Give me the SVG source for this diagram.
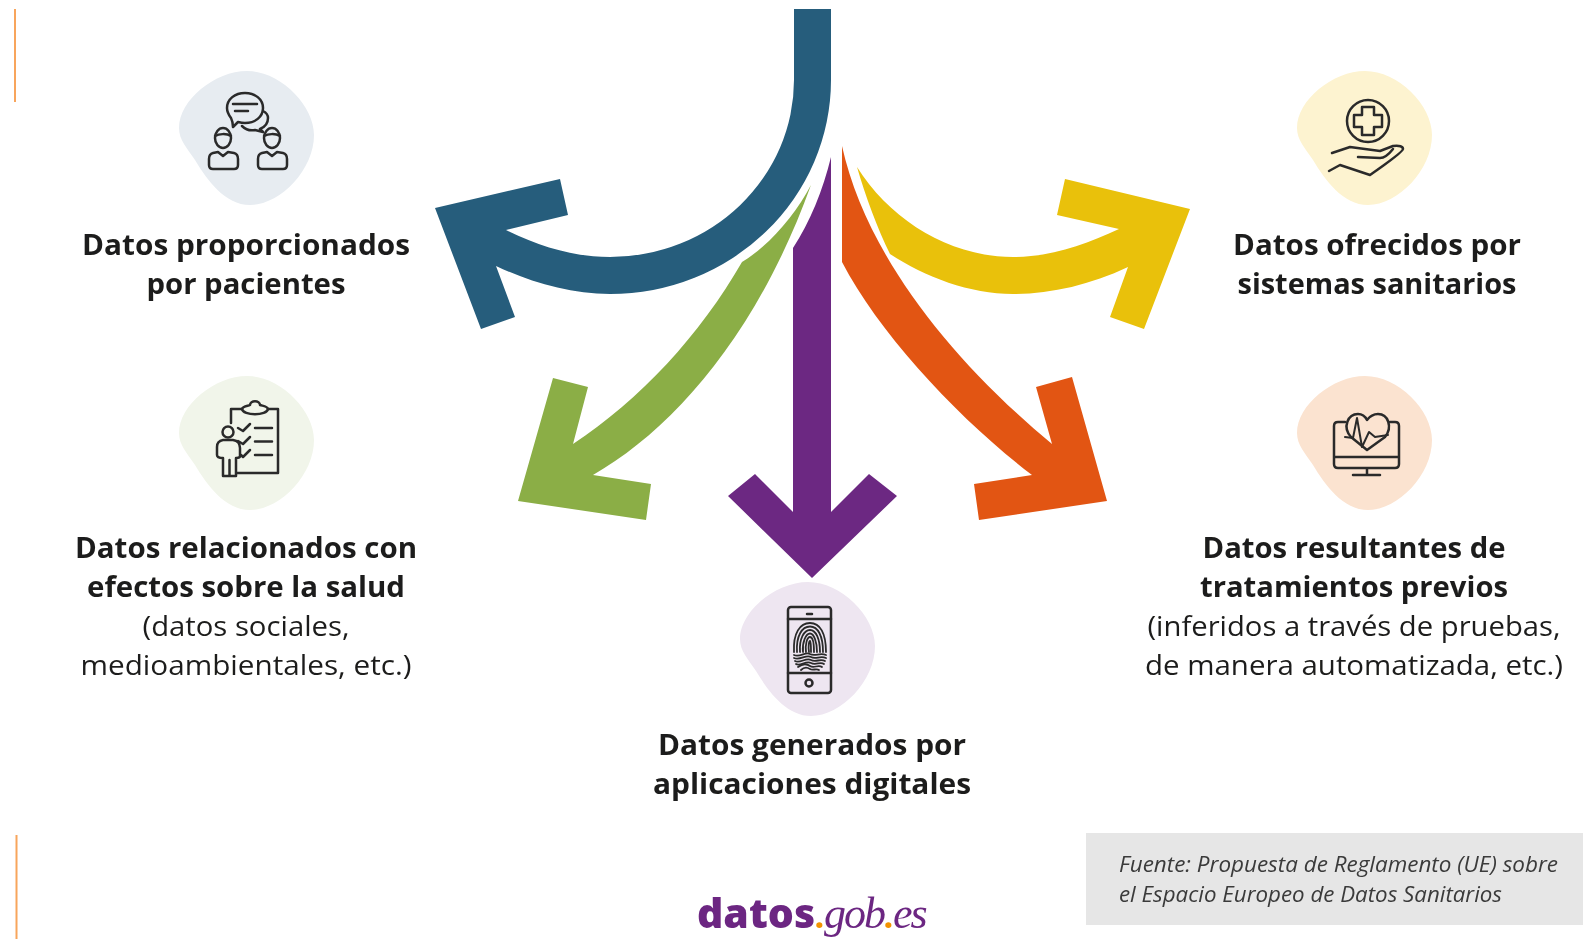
<svg xmlns="http://www.w3.org/2000/svg" width="1583" height="939" viewBox="0 0 1583 939">
<style>
.t{font-family:"Open Sans","Noto Sans",sans-serif;font-size:28px;fill:#1d1d1b;text-anchor:middle}
.b{font-weight:700}
.r{font-weight:400}
.i{fill:none;stroke:#2b2b2b;stroke-width:2.5;stroke-linejoin:round;stroke-linecap:round}
.f{fill:none;stroke:#2b2b2b;stroke-width:1.8;stroke-linecap:round}
.s{font-family:"Open Sans","Noto Sans",sans-serif;font-style:italic;font-size:22px;fill:#3a3a3a}
.n{filter:url(#soft)}
.lb{font-family:"Open Sans",sans-serif;font-weight:800;font-size:41px;fill:#6c2882}
.ls{font-family:"Liberation Serif",serif;font-style:italic;font-size:44px;letter-spacing:-2px;fill:#6c2882}
.ld{font-family:"Open Sans",sans-serif;font-weight:800;font-size:30px;fill:#f39200}
</style>
<defs>
<filter id="soft" x="-5%" y="-5%" width="110%" height="110%"><feGaussianBlur stdDeviation="0.45"/></filter>
<path id="blob" d="M68,0C101,0 135,34 135,64C135,99 101,134 71,134C46,134 28,109 16,89C8,77 0,69 0,57C0,29 36,0 68,0Z"/>
</defs>
<rect width="1583" height="939" fill="#fff"/>
<g id="marks" fill="#f8a55c">
<rect x="14" y="9" width="2" height="93"/>
<rect x="15.500" y="835" width="2" height="104"/>
</g>
<g id="connectors">
<path id="arrow-blue" fill="#265d7c" d="M794,9H831V80A221,214 0 0 1 610,294C570,294 530,282 496,266L515,317L481,329L435,208L560,179L568,215L506,230C540,247 575,257 610,257A184,177 0 0 0 794,80Z"/>
<path id="arrow-green" fill="#8bae46" d="M811,185C757,335 672,430 593,475L651,484L646,520L518,501L553,378L588,387L573,444C640,400 700,335 742,262C770,245 795,215 811,185Z"/>
<path id="arrow-purple" fill="#6c2882" d="M831,157V512L869,474L897,496L812,578L728,496L755,474L793,512V248C810,222 823,190 831,157Z"/>
<path id="arrow-orange" fill="#e25513" d="M842,146C865,250 945,355 1052,444L1036,387L1072,377L1107,501L979,520L974,484L1032,475C960,420 880,335 842,262Z"/>
<path id="arrow-yellow" fill="#e9c10b" d="M857,167C890,220 950,257 1013,257C1050,257 1085,245 1119,229L1057,215L1065,179L1190,209L1144,329L1110,317L1128,267C1090,285 1050,294 1013,294C970,294 925,277 890,254C878,230 865,195 857,167Z"/>
</g>
<g id="node-pacientes" class="n">
<use href="#blob" x="179" y="71" fill="#e7ecf1"/>
<g class="i">
<path d="M233,127C233,122 232,120 231,118C228,114 227,111 227,108C227,99 235,93 245,93C255,93 263,99 263,108C263,117 255,123 245,123C242,123 240,122.500 238,122Z"/>
<path d="M263,111C267,113 268,116 268,118C268,123 265,127 260,129L263,132L255,130C250,131 245,129 242,126"/>
<path d="M233,104H257M235,111H248"/>
<ellipse cx="223" cy="138" rx="8" ry="10"/><path d="M215,136C219,134 226,133 231,136"/>
<path d="M218,152L213,153Q209,154 209,159V165Q209,169 213,169H234Q238,169 238,165V159Q238,154 234,153L228,152L223,156Z"/>
<ellipse cx="272" cy="138" rx="8" ry="10"/><path d="M264,136C268,134 275,133 280,136"/>
<path d="M267,152L262,153Q258,154 258,159V165Q258,169 262,169H283Q287,169 287,165V159Q287,154 283,153L277,152L272,156Z"/>
</g>
<text class="t b" x="246" y="255" textLength="328" lengthAdjust="spacingAndGlyphs">Datos proporcionados</text>
<text class="t b" x="246" y="294" textLength="199" lengthAdjust="spacingAndGlyphs">por pacientes</text>
</g>
<g id="node-efectos" class="n">
<use href="#blob" x="179" y="376" fill="#f1f5ea"/>
<g class="i">
<path d="M231,423V409H242M268,409H278V473H237"/>
<path d="M242,409C243,406 248,406 250,405C250,400 260,400 260,405C263,406 267,406 268,409C267,416 243,416 242,409Z"/>
<path d="M238,428L243,431L250,424M238,441L243,444L250,437M241,455L243,457L250,450"/>
<path d="M255,428H272M255,441.500H272M255,455H272"/>
<circle cx="228" cy="432" r="5.500"/>
<path d="M223,440H233Q240,441 240,448V456Q240,458 236,458V476H223V458Q217,458 217,455V447Q217,441 223,440ZM229.500,460V476"/>
</g>
<text class="t b" x="246" y="558" textLength="342" lengthAdjust="spacingAndGlyphs">Datos relacionados con</text>
<text class="t b" x="246" y="597" textLength="318" lengthAdjust="spacingAndGlyphs">efectos sobre la salud</text>
<text class="t r" x="246" y="636" textLength="207" lengthAdjust="spacingAndGlyphs">(datos sociales,</text>
<text class="t r" x="246" y="675" textLength="331" lengthAdjust="spacingAndGlyphs">medioambientales, etc.)</text>
</g>
<g id="node-sistemas" class="n">
<use href="#blob" x="1297" y="71" fill="#fdf3d0"/>
<g class="i">
<circle cx="1368" cy="121" r="21"/>
<path d="M1362,107H1374V115H1382V127H1374V135H1362V127H1354V115H1362Z"/>
<path d="M1332,153L1350,147L1380,151L1393,146Q1403,145 1403,149Q1403,152 1370,175L1340,165L1329,171M1358,157L1380,158Q1386,158 1393,149"/>
</g>
<text class="t b" x="1377" y="255" textLength="288" lengthAdjust="spacingAndGlyphs">Datos ofrecidos por</text>
<text class="t b" x="1377" y="294" textLength="279" lengthAdjust="spacingAndGlyphs">sistemas sanitarios</text>
</g>
<g id="node-tratamientos" class="n">
<use href="#blob" x="1297" y="376" fill="#fbe3d0"/>
<g class="i">
<path d="M1345,422H1338Q1334,422 1334,426V464Q1334,468 1338,468H1395Q1399,468 1399,464V426Q1399,422 1395,422H1390M1334,457H1399M1367,468V475M1353,475H1380"/>
<path d="M1367,450L1351,437C1342,427 1348,414 1358,414C1362,414 1365,416 1367,420C1370,416 1373,414 1378,414C1388,414 1393,427 1385,437Z"/>
<path d="M1345,437L1353,438L1357,418L1362,447L1369,432L1375,437L1388,435" stroke-width="2"/>
</g>
<text class="t b" x="1354" y="558" textLength="303" lengthAdjust="spacingAndGlyphs">Datos resultantes de</text>
<text class="t b" x="1354" y="597" textLength="308" lengthAdjust="spacingAndGlyphs">tratamientos previos</text>
<text class="t r" x="1354" y="636" textLength="413" lengthAdjust="spacingAndGlyphs">(inferidos a través de pruebas,</text>
<text class="t r" x="1354" y="675" textLength="418" lengthAdjust="spacingAndGlyphs">de manera automatizada, etc.)</text>
</g>
<g id="node-aplicaciones" class="n">
<use href="#blob" x="740" y="582" fill="#eee6f1"/>
<g class="i">
<rect x="788" y="607" width="43" height="86" rx="3"/>
<path d="M788,619H831M788,673H831M807,614H812"/>
<circle cx="809" cy="683" r="3.500"/>
</g>
<g class="f">
<path d="M794,652C793,633 800,623 810,623C820,623 826,633 826,652"/>
<path d="M797,652C796,636 802,626.500 810,626.500C818,626.500 823,636 823,652"/>
<path d="M800,652C799,639 804,630 810,630C816,630 820,639 820,652"/>
<path d="M803,652C802,642 806,633.500 810,633.500C814,633.500 817,642 817,652"/>
<path d="M806,652C805,645 807,637 810,637C813,637 814,645 814,652"/>
<path d="M809,652C808,647 809,641 810,641C811,642 811,647 811,652"/>
<path d="M794,655C800,658 806,651 810,654C815,657 820,652 826,655"/>
<path d="M794,658C800,661 806,654 811,657C816,660 820,655 826,658"/>
<path d="M795,661C800,664 806,657 811,660C816,663 820,658 825,661"/>
<path d="M796,664C800,667 806,660 811,663C816,666 820,661 824,664"/>
<path d="M798,667C802,664 806,663 810,666C814,669 818,664 822,667"/>
<path d="M801,670C804,667 807,667 810,669C813,671 816,668 819,670"/>
</g>
<text class="t b" x="812" y="755" textLength="308" lengthAdjust="spacingAndGlyphs">Datos generados por</text>
<text class="t b" x="812" y="794" textLength="318" lengthAdjust="spacingAndGlyphs">aplicaciones digitales</text>
</g>
<g id="source" class="n">
<rect x="1086" y="833" width="497" height="92" fill="#e6e6e6"/>
<text class="s" x="1119" y="872" textLength="439" lengthAdjust="spacingAndGlyphs">Fuente: Propuesta de Reglamento (UE) sobre</text>
<text class="s" x="1119" y="902" textLength="383" lengthAdjust="spacingAndGlyphs">el Espacio Europeo de Datos Sanitarios</text>
</g>
<g id="logo" class="n">
<text y="928"><tspan class="lb" x="697">datos</tspan><tspan class="ld" x="815">.</tspan><tspan class="ls" x="824">gob</tspan><tspan class="ld" x="884">.</tspan><tspan class="ls" x="893">es</tspan></text>
</g>
</svg>
